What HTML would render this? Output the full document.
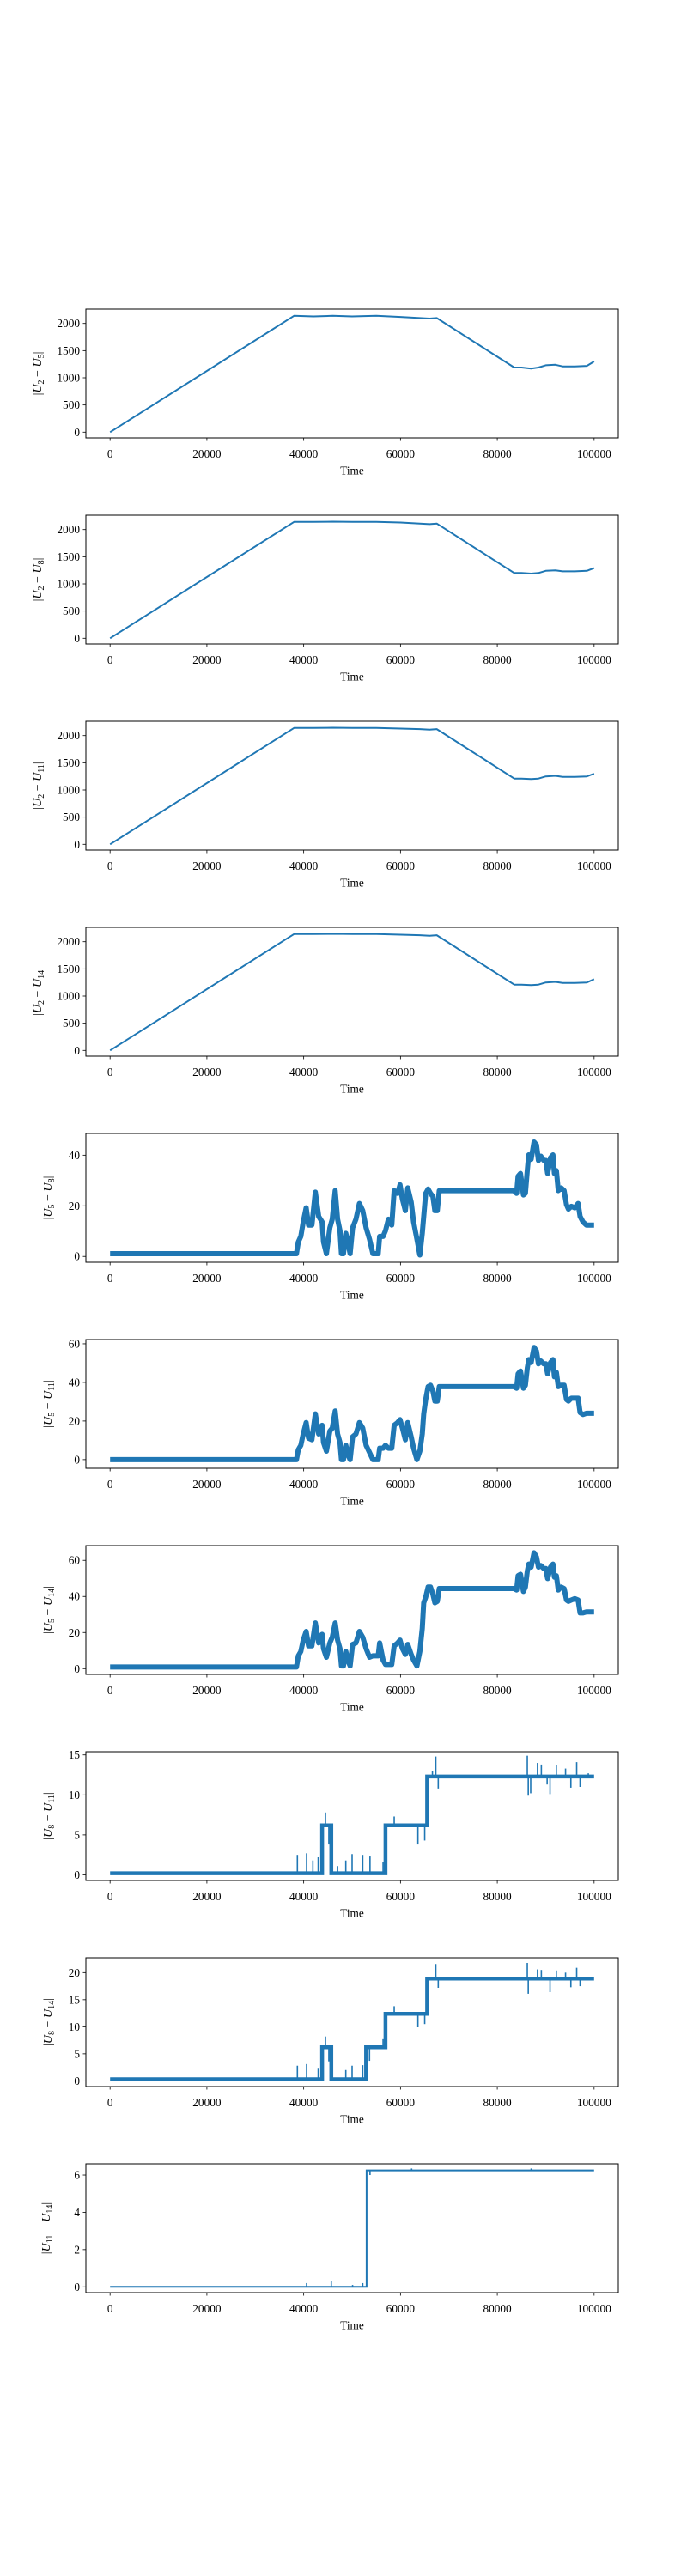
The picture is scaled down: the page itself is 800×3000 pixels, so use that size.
<!DOCTYPE html>
<html><head><meta charset="utf-8"><style>
html,body{margin:0;padding:0;background:#fff;}
svg{display:block;font-family:"Liberation Serif","DejaVu Serif",serif;}
</style></head><body>
<svg id="fig" width="800" height="3000" viewBox="0 0 800 3000" xmlns="http://www.w3.org/2000/svg"></svg>
<script>
// ---------- data ----------
const xTicks = [0, 20000, 40000, 60000, 80000, 100000];
const yLabelsA = [["2","5"],["2","8"],["2","11"],["2","14"],["5","8"],["5","11"],["5","14"],["8","11"],["8","14"],["11","14"]];
const yTicks = [[0,500,1000,1500,2000],[0,500,1000,1500,2000],[0,500,1000,1500,2000],[0,500,1000,1500,2000],
  [0,20,40],[0,20,40,60],[0,20,40,60],[0,5,10,15],[0,5,10,15,20],[0,2,4,6]];
const yMin = [-106,-106,-106,-106,-2.3,-4.5,-3.2,-0.7,-1.05,-0.31];
const yMax = [2264,2264,2264,2264,48.6,62.2,68.2,15.4,22.75,6.6];

// plots 1-4 (time in thousands)
const trendT = [0,38,42,46,50,55,60,64,66,67.5,83.5,85,87,88.5,90,92,93.5,96,98.5,100];
const p1 = [0,2140,2130,2140,2130,2140,2120,2100,2090,2100,1190,1190,1170,1190,1230,1240,1210,1210,1220,1300];
const p2 = [0,2140,2140,2145,2140,2140,2130,2110,2100,2110,1200,1200,1190,1200,1240,1250,1230,1230,1240,1290];
const p3 = [0,2140,2140,2145,2140,2140,2130,2120,2110,2120,1210,1210,1200,1210,1250,1260,1240,1240,1250,1300];
const p4 = [0,2140,2140,2145,2140,2140,2130,2120,2110,2120,1210,1210,1200,1210,1250,1260,1240,1240,1250,1310];

// plots 5-7
const walkT = [0,38.5,38.9,39.4,39.9,40.5,41.0,41.7,42.4,43.1,43.8,44.1,44.7,45.4,45.9,46.5,47.0,47.5,47.8,48.2,48.7,49.1,49.6,50.1,50.8,51.5,52.2,52.9,53.6,54.3,55.4,55.7,56.4,56.9,57.5,58.2,58.7,59.4,59.9,60.4,61.0,61.5,62.2,62.7,63.4,64.0,64.5,64.8,65.2,65.7,66.2,66.7,67.1,67.6,68.0,83.4,84.0,84.3,84.8,85.4,85.8,86.2,86.5,87.0,87.6,88.1,88.5,89.0,89.6,90.0,90.4,91.0,91.5,91.8,92.2,92.6,93.2,93.8,94.3,94.7,95.3,96.0,96.7,97.1,97.7,98.4,100];
const p5 = [1.1,1.1,5.7,7.9,13.6,19.2,12.4,12.4,25.4,15.8, 13.6,5.7,1.1,11.3,14.7,26.0,14.7,10.2,1.1,1.1, 9.1,5.7,1.1,11.3,14.7,20.9,18.1,11.3,6.8,1.1, 1.1,7.9,7.9,10.2,14.7,12.4,26.0,24.9,28.3,22.6, 18.1,27.1,21.5,13.6,6.8,0.6,9.1,15.8,24.9,26.6, 24.9,23.7,18.1,18.1,26.0,26.0,24.9,31.7,32.8,24.3, 24.9,33.9,40.1,38.4,45.2,44.1,37.9,39.6,37.9,37.9, 32.8,39.0,40.1,32.8,33.9,26.0,27.1,26.0,20.4,18.7, 19.8,19.2,20.9,15.8,13.6,12.4,12.4];
const p6 = [0,0,5.2,7.4,13.3,19.2,11.1,10.3,23.7,13.3, 17.8,8.9,4.4,14.8,16.3,25.2,13.3,8.9,0,0, 7.4,2.9,0,11.8,13.3,19.2,16.3,7.4,3.7,0, 0,5.9,5.9,7.4,5.9,5.9,17.8,19.2,20.7,16.3, 10.3,19.2,11.8,5.9,0,4.4,13.3,23.7,31.1,37.8, 38.5,35.5,30.3,30.3,37.8,37.8,37.0,44.4,45.9,37.0, 38.5,47.4,51.8,50.3,58.1,56.3,49.6,51.1,49.6,49.6, 44.4,50.3,51.8,42.9,45.2,37.8,38.5,38.5,31.1,30.3, 31.8,31.8,31.8,24.4,23.4,24.0,24.0];
const p7 = [0.9,0.9,7.1,9.5,15.8,20.6,12.6,12.6,25.3,14.2, 19.0,11.1,6.3,14.2,17.4,25.3,15.8,11.1,1.5,1.5, 9.5,4.7,1.5,13.4,14.2,20.6,17.4,11.1,6.3,7.1, 7.1,14.2,4.7,2.3,2.3,2.3,12.6,14.2,15.8,11.1, 7.9,13.4,7.9,4.7,1.5,9.5,22.2,36.5,39.6,45.2, 45.2,41.2,36.5,37.3,44.4,44.4,43.6,51.5,52.3,42.8, 45.2,53.9,57.9,56.3,64.2,61.9,56.3,57.1,55.5,55.5, 49.9,56.3,57.9,50.7,51.5,43.6,45.2,44.4,38.0,37.3, 38.0,38.8,38.0,30.9,30.9,31.4,31.4];

// plots 8-10: step levels + spikes
const p8StepT = [0,43.8,45.7,56.9,65.5];
const p8StepV = [0.2,6.2,0.2,6.2,12.3];
const p8SpikeT = [38.7,40.6,41.9,43.0,47.0,48.7,50.0,52.2,53.7,56.4,44.5,45.2,58.7,63.6,65.0,67.3,67.8,66.6,86.2,86.4,86.9,88.3,89.1,90.3,90.9,92.2,94.1,95.2,96.4,97.1,98.8];
const p8SpikeV = [2.5,2.7,1.8,2.2,1.1,1.8,2.6,2.5,2.3,1.6,7.8,3.8,7.3,3.8,4.3,14.8,10.8,13.0,14.9,9.9,10.2,14.0,13.8,11.3,10.1,13.7,13.3,10.9,14.1,11.0,12.7];
const p9StepT = [0,43.8,45.7,52.9,56.9,65.5];
const p9StepV = [0.3,6.2,0.3,6.2,12.4,18.9];
const p9SpikeT = [38.7,40.6,43.0,48.7,50.0,52.2,44.5,45.2,53.6,56.4,58.7,63.6,65.0,67.3,67.8,86.2,86.4,88.3,89.1,90.9,92.2,94.1,95.2,96.4,97.1];
const p9SpikeV = [2.8,3.1,2.4,2.0,2.8,2.9,8.2,3.6,3.7,7.7,13.8,9.9,10.5,21.6,17.2,21.8,16.1,20.6,20.5,16.4,20.4,20.0,17.3,20.9,17.5];
const p10StepT = [0,53.0];
const p10StepV = [0.0,6.25];
const p10SpikeT = [40.6,45.7,50.1,52.2,53.7,62.3,87.0];
const p10SpikeV = [0.2,0.3,0.1,0.2,6.0,6.35,6.35];

// ---------- drawing ----------
const NS = "http://www.w3.org/2000/svg";
const svg = document.getElementById("fig");
const L = 100, W = 620, H = 150, TOP0 = 360, GAP = 240;
const XMIN = -5000, XMAX = 105000;
const BLUE = "#1f77b4";
function mk(tag, attrs, parent) {
  const e = document.createElementNS(NS, tag);
  for (const k in attrs) e.setAttribute(k, attrs[k]);
  (parent || svg).appendChild(e);
  return e;
}
function xs(t) { return L + (t - XMIN) / (XMAX - XMIN) * W; }

const lineSeries = [p1, p2, p3, p4, p5, p6, p7];
const lineTimes = [trendT, trendT, trendT, trendT, walkT, walkT, walkT];
const lineWidths = [2, 2, 2, 2, 6, 6, 6];
const stepSets = [
  [p8StepT, p8StepV, p8SpikeT, p8SpikeV, 4.5],
  [p9StepT, p9StepV, p9SpikeT, p9SpikeV, 4.5],
  [p10StepT, p10StepV, p10SpikeT, p10SpikeV, 2]
];

for (let i = 0; i < 10; i++) {
  const top = TOP0 + GAP * i, bot = top + H;
  const ys = v => bot - (v - yMin[i]) / (yMax[i] - yMin[i]) * H;
  const g = mk("g", {});
  
  
  const clipId = "clip" + i;
  const cp = mk("clipPath", { id: clipId }, g);
  mk("rect", { x: L, y: top, width: W, height: H }, cp);
  const dg = mk("g", { "clip-path": "url(#" + clipId + ")" }, g);

  if (i < 7) {
    const T = lineTimes[i], V = lineSeries[i];
    const pts = T.map((t, k) => xs(t * 1000).toFixed(1) + "," + ys(V[k]).toFixed(1)).join(" ");
    const pl = mk("polyline", { points: pts, fill: "none", stroke: BLUE, "stroke-width": lineWidths[i], "stroke-linejoin": "round", "stroke-linecap": "butt" }, dg);
    
    
  } else {
    const [ST, SV, KT, KV, sw] = stepSets[i - 7];
    const level = t => { let v = SV[0]; for (let j = 0; j < ST.length; j++) if (t >= ST[j]) v = SV[j]; return v; };
    for (let k = 0; k < KT.length; k++) {
      const x = xs(KT[k] * 1000);
      const sp = mk("line", { x1: x, x2: x, y1: ys(level(KT[k])), y2: ys(KV[k]), stroke: BLUE, "stroke-width": 1.6 }, dg);
      
      
    }
    const pts = [];
    for (let j = 0; j < ST.length; j++) {
      const t0 = ST[j], t1 = j + 1 < ST.length ? ST[j + 1] : 100;
      pts.push(xs(t0 * 1000).toFixed(1) + "," + ys(SV[j]).toFixed(1));
      pts.push(xs(t1 * 1000).toFixed(1) + "," + ys(SV[j]).toFixed(1));
    }
    const pl = mk("polyline", { points: pts.join(" "), fill: "none", stroke: BLUE, "stroke-width": sw, "stroke-linejoin": "miter" }, dg);
    
    
  }

  const fr = mk("rect", { x: L, y: top, width: W, height: H, fill: "none", stroke: "#000", "stroke-width": 1 }, g);
  
  

  xTicks.forEach(t => {
    const x = xs(t);
    mk("line", { x1: x, x2: x, y1: bot, y2: bot + 3.5, stroke: "#000", "stroke-width": 0.8 }, g);
    const tx = mk("text", { x: x, y: bot + 23, "font-size": 13.3, "text-anchor": "middle" }, g);
    tx.textContent = String(t);
    
    
  });
  const xl = mk("text", { x: L + W / 2, y: bot + 42.5, "font-size": 13.3, "text-anchor": "middle" }, g);
  xl.textContent = "Time";
  
  

  yTicks[i].forEach(v => {
    const y = ys(v);
    mk("line", { x1: L - 3.5, x2: L, y1: y, y2: y, stroke: "#000", "stroke-width": 0.8 }, g);
    const tx = mk("text", { x: L - 7, y: y + 4.5, "font-size": 13.3, "text-anchor": "end" }, g);
    tx.textContent = String(v);
    
    
  });

  const [a, b] = yLabelsA[i];
  const cy = top + H / 2;
  const yl = mk("text", { transform: "translate(" + (i < 4 ? 48 : (i === 9 ? 58 : 60)) + "," + cy + ") rotate(-90)", "font-size": 14, "text-anchor": "middle" }, g);
  
  
  yl.innerHTML = '|<tspan font-style="italic">U</tspan><tspan font-size="10" dy="3">' + a + '</tspan><tspan dy="-3"> − </tspan><tspan font-style="italic">U</tspan><tspan font-size="10" dy="3">' + b + '</tspan><tspan dy="-3">|</tspan>';
}
</script>
</body></html>
